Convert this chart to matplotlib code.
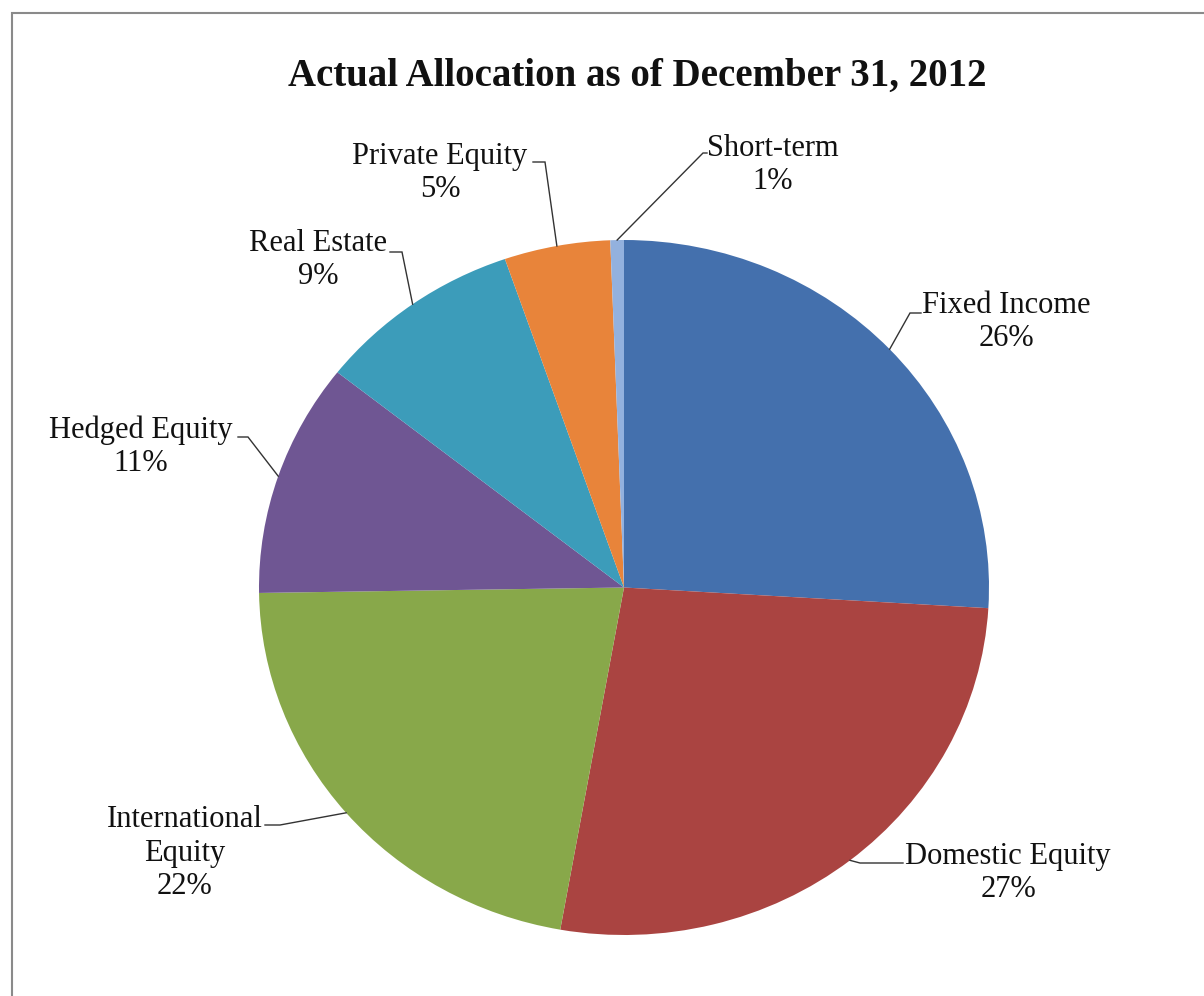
import numpy as np
import matplotlib
matplotlib.use("Agg")
import matplotlib.pyplot as plt
from matplotlib.patches import Rectangle

plt.rcParams['font.family'] = ['Liberation Serif', 'DejaVu Serif']

# 2012 year-end asset mix (percent of total)
categories = ['Fixed Income', 'Domestic Equity', 'International\nEquity',
              'Hedged Equity', 'Real Estate', 'Private Equity', 'Short-term']
shares = [26.0, 26.9, 22.0, 10.9, 9.1, 4.7, 0.6]
colors = ['#4470AD', '#AA4441', '#88A84A', '#6F5693', '#3C9CBA',
          '#E8843A', '#93B1DE']

# label boxes in pixel space (centre x, centre y) and leader elbow / end points
label_pos = [(1006, 322), (1008, 873), (185, 853), (141, 447),
             (318, 260), (440, 173), (773, 165)]
elbows = [((910, 313), (921, 313)), ((860, 863), (903, 863)),
          ((280, 825), (265, 825)), ((248, 437), (238, 437)),
          ((402, 252), (390, 252)), ((545, 162), (533, 162)),
          ((703, 153), (707, 153))]

W, H = 1204, 996
fig = plt.figure(figsize=(W / 100, H / 100), dpi=100)
fig.patch.set_facecolor('white')

# elliptical pie box
left, right, top, bottom = 259, 989, 240, 935
cx, cy = (left + right) / 2, (top + bottom) / 2
rx, ry = (right - left) / 2, (bottom - top) / 2
ax = fig.add_axes([left / W, 1 - bottom / H, (right - left) / W, (bottom - top) / H])

wedges, _ = ax.pie(shares, colors=colors, startangle=90, counterclock=False,
                   wedgeprops=dict(linewidth=0))
ax.set_aspect('auto')
ax.set_xlim(-1, 1)
ax.set_ylim(-1, 1)


def to_data(px, py):
    return (px - cx) / rx, (cy - py) / ry


for w, name, val, (tx, ty), (elb, end) in zip(wedges, categories, shares,
                                              label_pos, elbows):
    mid = np.deg2rad((w.theta1 + w.theta2) / 2)
    ax_x, ax_y = np.cos(mid), np.sin(mid)
    ex, ey = to_data(*elb)
    nx, ny = to_data(*end)
    ax.plot([ax_x, ex, nx], [ax_y, ey, ny], color='#333333', lw=1.0,
            clip_on=False, solid_joinstyle='miter')
    lx, ly = to_data(tx, ty)
    ax.text(lx, ly, f"{name}\n{val:.0f}%", ha='center', va='center',
            fontsize=22, color='#111111', linespacing=1.2)

fig.text(637 / W, 1 - 76 / H, 'Actual Allocation as of December 31, 2012',
         ha='center', va='center', fontsize=28, fontweight='bold',
         color='#111111')

# chart frame (runs off the right and bottom edges)
fig.add_artist(Rectangle((12 / W, -0.1), 1.2, (H - 13) / H + 0.1,
                         transform=fig.transFigure, fill=False,
                         edgecolor='#8a8a8a', lw=1.5))

fig.savefig('out.png', dpi=100, facecolor='white')
